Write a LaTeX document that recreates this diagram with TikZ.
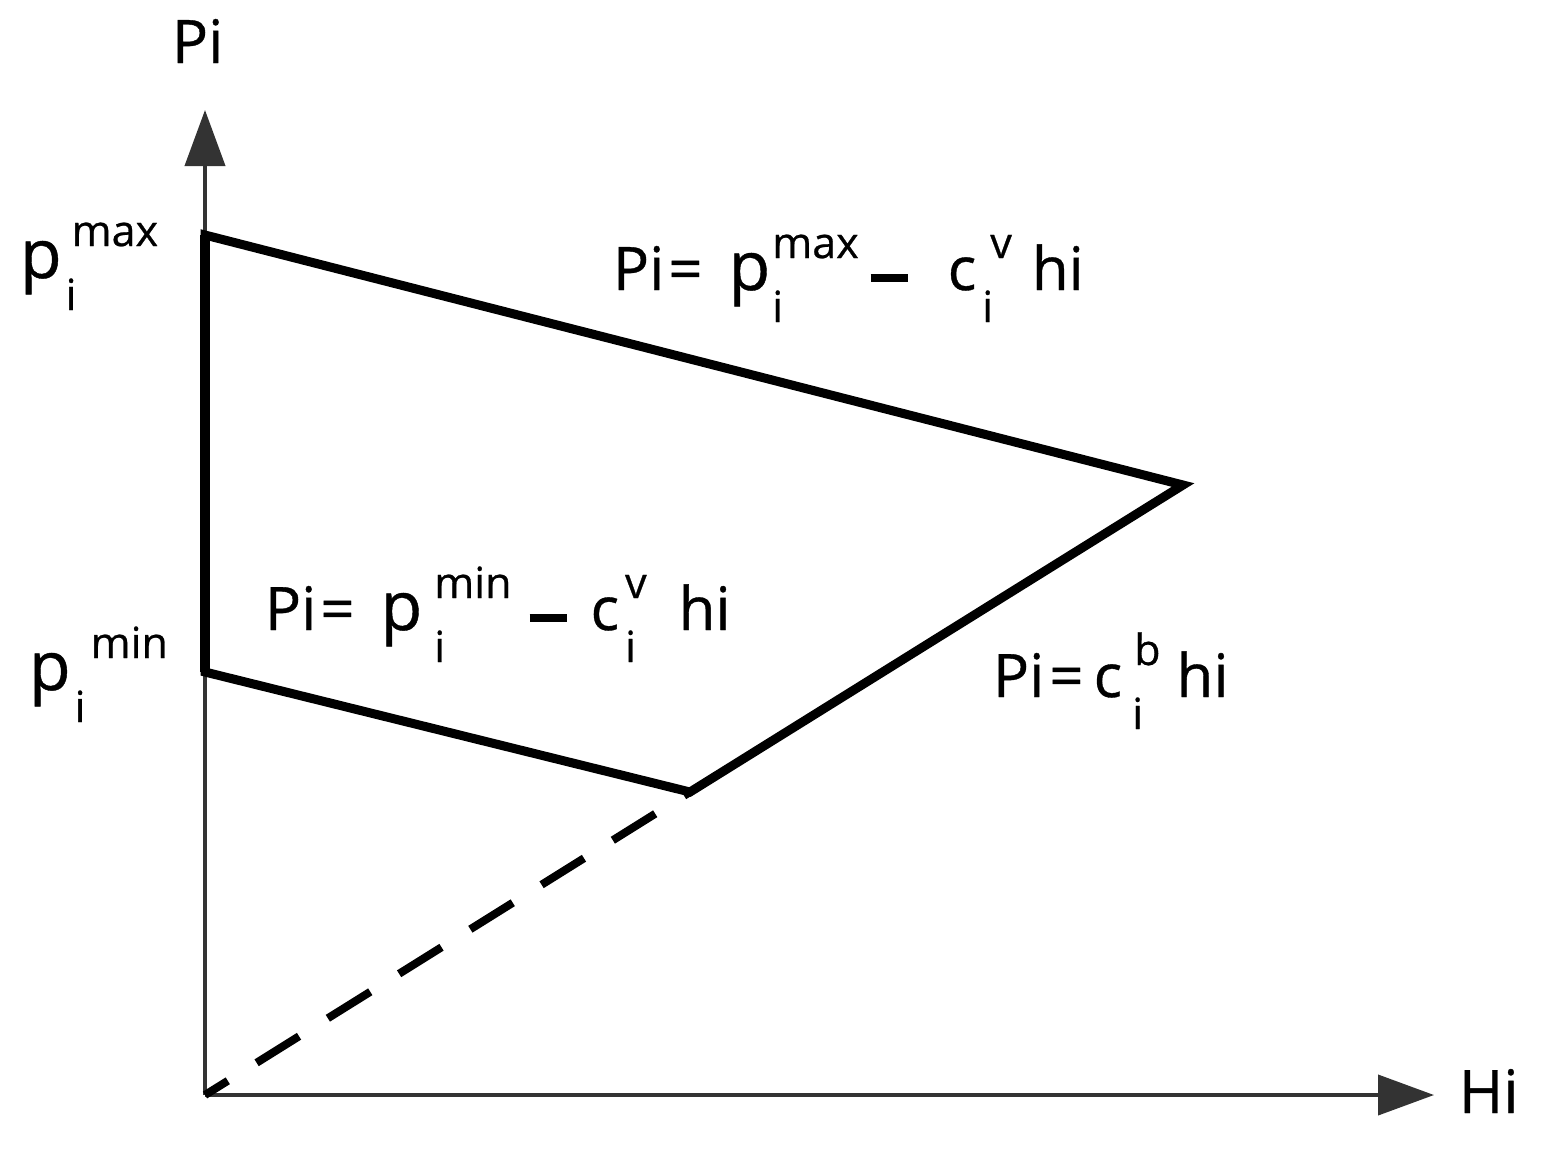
\documentclass[tikz,border=0pt]{standalone}
\usepackage{fontspec}
\setmainfont{Open Sans}[FakeBold=0.6]
\usetikzlibrary{arrows.meta}
\newcommand\mainsz{\fontsize{30pt}{30pt}\selectfont}
\newcommand\bigsz{\fontsize{34pt}{34pt}\selectfont}
\newcommand\smsz{\fontsize{21.5pt}{21.5pt}\selectfont}
% #1 sub, #2 sup, #3 extra shift of the sup
\newcommand\subsup[3]{\rlap{\raisebox{-16pt}{\smsz #1}}\hspace{#3}\raisebox{16pt}{\smsz #2}}
\newcommand\bigbar{\rule[4pt]{18.5pt}{4.2pt}}
\tikzset{
  axis/.style={line width=2pt, draw=black!80, -{Triangle[length=28pt,width=20pt]}},
  edge/.style={line width=4.5pt, line join=miter},
  dashedge/.style={line width=4pt, dash pattern=on 25pt off 17pt, dash phase=21.5pt},
  lbl/.style={anchor=base west, inner sep=0pt, outer sep=0pt, font=\mainsz}
}
\begin{document}
\begin{tikzpicture}[x=0.5pt,y=-0.5pt]
\useasboundingbox (0,0) rectangle (1545,1152);
\fill[white] (0,0) rectangle (1545,1152);
\coordinate (O) at (205,1095);
\coordinate (Ytop) at (205,110);
\coordinate (Xend) at (1434,1095);
\coordinate (A) at (205,235);
\coordinate (B) at (1183,485);
\coordinate (C) at (690,792);
\coordinate (D) at (205,672);
\draw[axis] (O) -- (Ytop);
\draw[axis] (O) -- (Xend);
\draw[dashedge] (C) -- (O);
\draw[edge] (A) -- (B) -- (C) -- (D) -- cycle;
\draw[line width=5pt] (A) -- (D);
\node[lbl] (ylab) at (172,63) {Pi};
\node[lbl] (xlab) at (1459,1113) {Hi};
\node[lbl] (pmax) at (20,278) {{\bigsz p}\hspace{2pt}\subsup{i}{max}{3pt}};
\node[lbl] (pmin) at (29,690) {{\bigsz p}\hspace{2pt}\subsup{i}{min}{8pt}};
\node[lbl] (f1) at (613,290) {Pi\hspace{2pt}=\hspace{13pt}{\bigsz p}\hspace{1pt}\subsup{i}{max}{0pt}\hspace{6pt}\bigbar\hspace{20pt}c\hspace{3pt}\subsup{i}{v}{4pt}\hspace{10pt}hi};
\node[lbl] (f2) at (265,630) {Pi\hspace{2pt}=\hspace{13pt}{\bigsz p}\hspace{6pt}\subsup{i}{min}{0pt}\hspace{9pt}\bigbar\hspace{12pt}c\hspace{3pt}\subsup{i}{v}{0pt}\hspace{16pt}hi};
\node[lbl] (f3) at (993,697) {Pi\hspace{2.5pt}=\hspace{5pt}c\hspace{5pt}\subsup{i}{b}{1pt}\hspace{8pt}hi};
\end{tikzpicture}
\end{document}
